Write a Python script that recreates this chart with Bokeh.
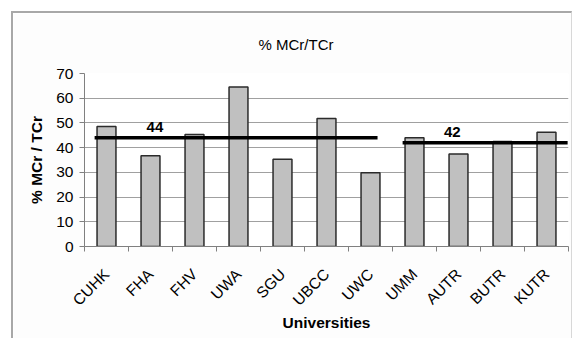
from math import pi

from bokeh.embed import file_html
from bokeh.models import ColumnDataSource, FixedTicker, Label, Range1d
from bokeh.plotting import figure
from bokeh.resources import INLINE

# Share of MCr in TCr per university (%)
universities = ["CUHK", "FHA", "FHV", "UWA", "SGU", "UBCC", "UWC",
                "UMM", "AUTR", "BUTR", "KUTR"]
mcr_tcr_pct = [48.6, 36.7, 45.3, 64.5, 35.3, 51.8, 29.8,
               44.0, 37.4, 42.5, 46.2]

# Two university groups and their average level
group_sizes = [7, 4]
group_averages = [44, 42]

FONT = "Liberation Sans"
Y_MAX = 70

idx = list(range(len(universities)))
src = ColumnDataSource(dict(x=idx, top=mcr_tcr_pct, name=universities))

# The chart sits inside a light frame drawn with CSS borders
p = figure(width=561, height=327, output_backend="svg", toolbar_location=None,
           x_range=Range1d(-0.5, len(universities) - 0.5),
           y_range=Range1d(0, Y_MAX),
           min_border_left=71, min_border_right=6,
           min_border_top=60, min_border_bottom=94,
           title="% MCr/TCr")
p.styles = {"margin-left": "11px", "margin-top": "11px",
            "border-left": "2px solid #a8a8a8", "border-top": "2px solid #a8a8a8",
            "border-right": "1px solid #d8d8d8"}
p.background_fill_color = "white"
p.border_fill_color = "#fdfdfd"
p.outline_line_color = None

# Chart title
p.title.align = "left"
p.title.offset = 174
p.title.standoff = 41
p.title.text_font = FONT
p.title.text_font_size = "15px"
p.title.text_font_style = "normal"
p.title.text_color = "black"

# Bars
p.vbar(x="x", top="top", width=0.43, bottom=0, source=src,
       fill_color="#c0c0c0", line_color="#2b2b2b", line_width=1.5)

# Group average lines with labels
start = 0
for size, avg in zip(group_sizes, group_averages):
    end = start + size - 1
    x0 = start - 0.27
    x1 = end + 0.16 if end < len(universities) - 1 else end + 0.48
    p.line([x0, x1], [avg, avg], line_color="black", line_width=3.5)
    p.add_layout(Label(x=start + (1.1 if start == 0 else 0.86), y=avg,
                       y_offset=11, text=str(avg), text_align="center",
                       text_baseline="middle", text_font=FONT,
                       text_font_size="15px", text_font_style="bold",
                       text_color="black"))
    start += size

# Axes
xa = p.xaxis[0]
xa.ticker = FixedTicker(ticks=idx,
                        minor_ticks=[i - 0.5 for i in range(len(universities) + 1)])
xa.major_label_overrides = {i: n for i, n in zip(idx, universities)}
xa.major_label_orientation = pi / 4
xa.major_tick_line_color = None
xa.minor_tick_line_color = "#808080"
xa.minor_tick_in = 0
xa.minor_tick_out = 5
xa.axis_line_color = "#808080"
xa.axis_label = "Universities"

ya = p.yaxis[0]
ya.ticker = FixedTicker(ticks=list(range(0, Y_MAX + 1, 10)))
ya.minor_tick_line_color = None
ya.major_tick_in = 0
ya.major_tick_out = 5
ya.major_tick_line_color = "#808080"
ya.axis_line_color = "#808080"
ya.axis_label = "% MCr / TCr"

for ax in (xa, ya):
    ax.major_label_text_font = FONT
    ax.major_label_text_font_size = "15.5px"
    ax.major_label_text_color = "black"
    ax.axis_label_text_font = FONT
    ax.axis_label_text_font_size = "15.5px"
    ax.axis_label_text_font_style = "bold"
    ax.axis_label_text_color = "black"
xa.major_label_standoff = 19
xa.axis_label_standoff = -4
ya.major_label_standoff = 6
ya.axis_label_standoff = 8

p.xgrid.grid_line_color = None
p.ygrid.grid_line_color = "#a0a0a0"
p.ygrid.grid_line_width = 1

open("out.html", "w").write(file_html(p, INLINE))
